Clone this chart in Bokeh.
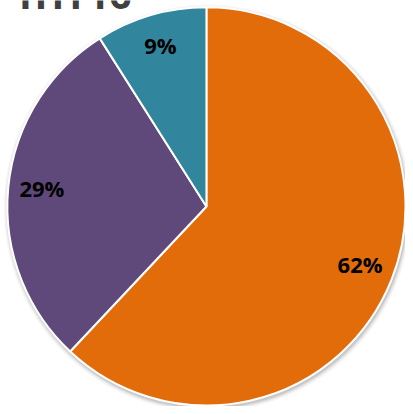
import math
from bokeh.plotting import figure
from bokeh.models import Range1d, ColumnDataSource
from bokeh.core.properties import value
from bokeh.embed import file_html
from bokeh.resources import INLINE

title_text = "1HT16"
categories = ["A", "B", "C"]
shares = [62, 29, 9]
labels = ["62%", "29%", "9%"]
colors = ["#E36C0A", "#5F497A", "#31859C"]

W, H = 405, 406
p = figure(width=W, height=H, output_backend="svg", toolbar_location=None,
           x_range=Range1d(0, 413), y_range=Range1d(0, 414),
           min_border=0, outline_line_color=None, background_fill_color="white",
           border_fill_color="white")
p.axis.visible = False
p.grid.visible = False

cx, cy, R = 210, 204, 203

# soft shadow
for k, a in [(5, 0.04), (4, 0.06), (3, 0.08), (2, 0.12), (1, 0.2)]:
    p.circle(x=[cx + 1], y=[cy - 2], radius=R + k,
             fill_color="#7f7f7f", fill_alpha=a, line_color=None)

total = sum(shares)
starts, ends, lx, ly = [], [], [], []
ang = math.pi / 2
for s in shares:
    sweep = 2 * math.pi * s / total
    starts.append(ang)
    ends.append(ang - sweep)
    mid = ang - sweep / 2
    lx.append(cx + 0.83 * R * math.cos(mid))
    ly.append(cy + 0.83 * R * math.sin(mid) + 3)
    ang -= sweep

src = ColumnDataSource(dict(cat=categories, start=starts, end=ends, color=colors,
                            lx=lx, ly=ly, label=labels))
p.wedge(x=cx, y=cy, radius=R, start_angle="start", end_angle="end",
        direction="clock", fill_color="color", line_color="white", line_width=2,
        source=src)

p.text(x="lx", y="ly", text="label", source=src, text_font=value("Open Sans"),
       text_font_style="bold", text_font_size="22px", text_color="#000000",
       text_align="center", text_baseline="middle")

p.text(x=[12], y=[421], text=[title_text], text_font=value("Open Sans"),
       text_font_style="bold", text_font_size="39px", text_color="#404040",
       text_align="left", text_baseline="alphabetic")

open("out.html", "w").write(file_html(p, INLINE))
